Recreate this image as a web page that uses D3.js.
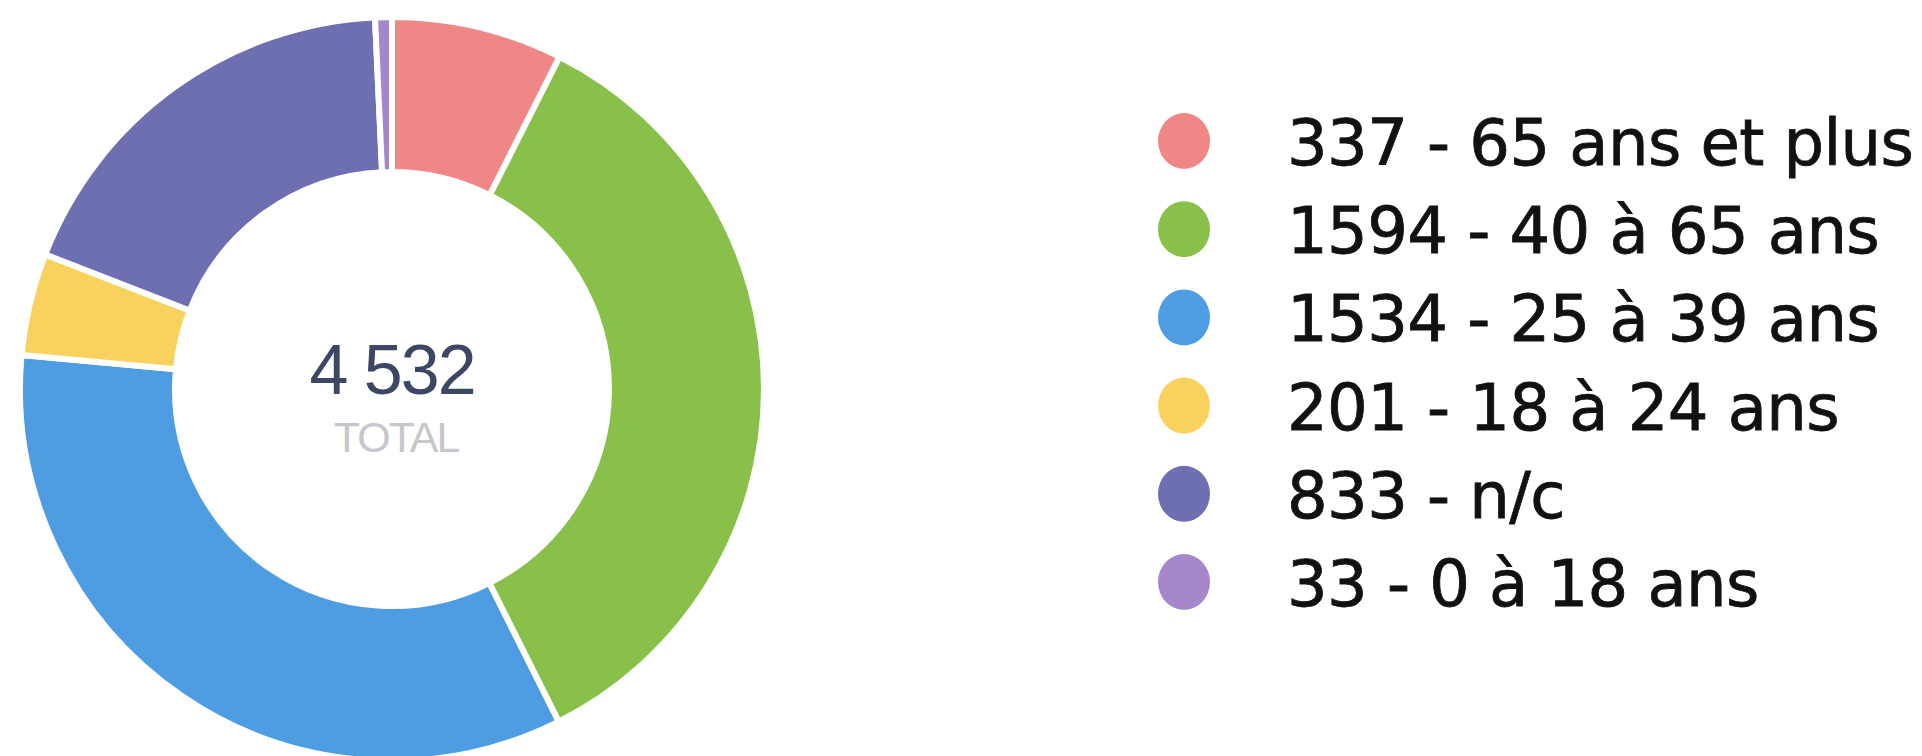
<!DOCTYPE html>
<html>
<head>
<meta charset="utf-8" />
<title>Répartition par âge</title>
<style>
  body { margin: 0; background: #fff; }
  .legend text { font-family: "DejaVu Sans", sans-serif; fill: #111; }
  .centre { font-family: "Liberation Sans", Arial, sans-serif; }
</style>
</head>
<body>
<svg id="chart" width="1922" height="756"></svg>
<script src="https://d3js.org/d3.v7.min.js"></script>
<script>
// data
var labels = ["65 ans et plus", "40 à 65 ans", "25 à 39 ans", "18 à 24 ans", "n/c", "0 à 18 ans"];
var values = [337, 1594, 1534, 201, 833, 33];
var colors = ["#ef8787", "#88c04a", "#4e9de3", "#f8d25c", "#6d6fb0", "#a687cc"];
var totalLabel = "TOTAL";

var svg = d3.select("#chart");

var cx = 392, cy = 389,
    outerR = 372, innerR = 217;

var total = d3.sum(values);
var data = values.map(function(v, i) { return { label: labels[i], value: v, color: colors[i] }; });

var pie = d3.pie().sort(null).value(function(d) { return d.value; });
var arc = d3.arc().innerRadius(innerR).outerRadius(outerR);

var g = svg.append("g").attr("transform", "translate(" + cx + "," + cy + ")");

g.selectAll("path.slice")
  .data(pie(data))
  .enter().append("path")
  .attr("class", "slice")
  .attr("d", arc)
  .attr("fill", function(d) { return d.data.color; })
  .attr("stroke", "#fff")
  .attr("stroke-width", 6);

// centre label
var fmt = d3.formatLocale({ thousands: " ", grouping: [3], decimal: ",", currency: ["", ""] }).format(",");
g.append("text")
  .attr("class", "centre")
  .attr("text-anchor", "middle")
  .attr("y", 5)
  .style("font-size", "70px")
  .style("fill", "#3b4763")
  .style("letter-spacing", "-2px")
  .text(fmt(total));

g.append("text")
  .attr("class", "centre")
  .attr("text-anchor", "middle")
  .attr("x", 4)
  .attr("y", 63)
  .style("font-size", "43px")
  .style("fill", "#c6c7cd")
  .style("letter-spacing", "-2px")
  .text(totalLabel);

// legend
var ly = d3.scalePoint().domain(d3.range(data.length)).range([141, 582]);

var legend = svg.append("g").attr("class", "legend");
var item = legend.selectAll("g")
  .data(data)
  .enter().append("g")
  .attr("transform", function(d, i) { return "translate(0," + ly(i) + ")"; });

item.append("ellipse")
  .attr("cx", 1184)
  .attr("cy", 0)
  .attr("rx", 26)
  .attr("ry", 28)
  .attr("fill", function(d) { return d.color; });

item.append("text")
  .attr("x", 1287)
  .attr("y", 24)
  .style("font-size", "64px")
  .style("letter-spacing", "-0.6px")
  .style("stroke", "#111")
  .style("stroke-width", "0.8px")
  .text(function(d) { return d.value + " - " + d.label; });
</script>
</body>
</html>
